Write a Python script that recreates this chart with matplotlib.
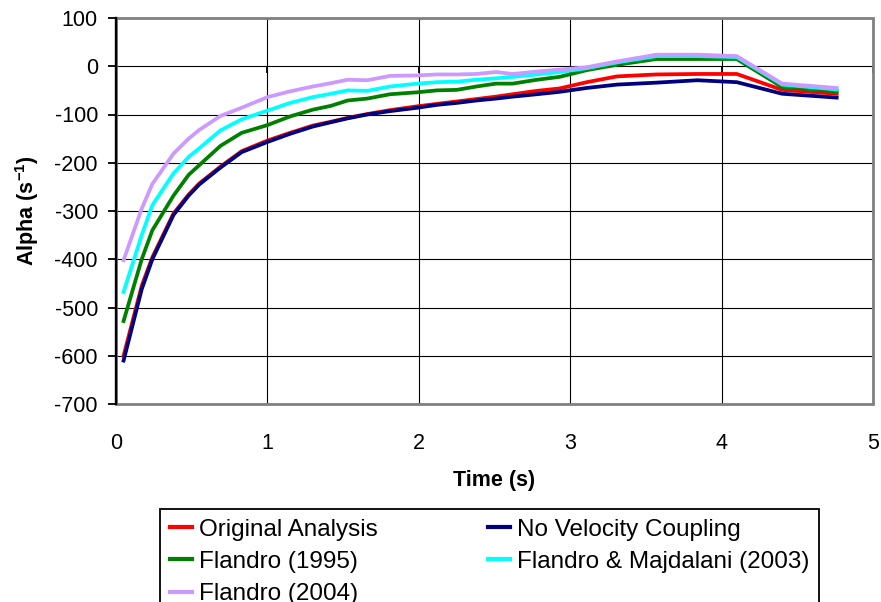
import matplotlib
matplotlib.use('Agg')
import matplotlib.pyplot as plt
from matplotlib.patches import Rectangle

plt.rcParams['font.family'] = ['Liberation Sans', 'DejaVu Sans']
plt.rcParams['mathtext.fontset'] = 'custom'
plt.rcParams['mathtext.rm'] = 'Liberation Sans'
plt.rcParams['mathtext.bf'] = 'Liberation Sans:bold'
plt.rcParams['axes.unicode_minus'] = False

# time points (s)
time = [0.05, 0.17, 0.24, 0.38, 0.48, 0.55, 0.69, 0.83, 1.0, 1.15,
        1.30, 1.42, 1.53, 1.66, 1.81, 1.99, 2.12, 2.25, 2.38, 2.51,
        2.62, 2.78, 2.93, 3.11, 3.31, 3.57, 3.84, 4.10, 4.40, 4.76]

original = [-600, -455, -396, -305, -266, -243, -208, -176, -154, -138,
            -123, -115, -107, -99, -91, -83, -78, -73, -68, -63,
            -58, -51, -46, -33, -21, -17, -16, -16, -49, -57]
no_vel = [-610, -462, -400, -308, -268, -245, -210, -178, -157, -140,
          -125, -116, -108, -100, -93, -86, -80, -76, -71, -67,
          -63, -58, -53, -45, -38, -34, -29, -33, -57, -65]
flandro95 = [-528, -400, -340, -268, -225, -205, -165, -138, -122, -104,
             -90, -82, -71, -67, -58, -54, -50, -49, -42, -36,
             -36, -28, -22, -8, 3, 15, 15, 15, -43, -52]
flandro_maj03 = [-468, -350, -288, -222, -188, -170, -133, -110, -92, -76,
                 -64, -57, -50, -51, -42, -36, -33, -32, -28, -25,
                 -22, -17, -12, -4, 8, 21, 21, 19, -38, -48]
flandro04 = [-402, -295, -244, -181, -150, -132, -103, -86, -64, -52,
             -42, -35, -28, -29, -20, -19, -17, -17, -16, -12,
             -16, -11, -7, -2, 10, 24, 24, 21, -36, -45]

names = ['Original Analysis', 'No Velocity Coupling', 'Flandro (1995)',
         'Flandro & Majdalani (2003)', 'Flandro (2004)']
colors = ['#FF0000', '#000080', '#008000', '#00FFFF', '#CC99FF']
series = [original, no_vel, flandro95, flandro_maj03, flandro04]

fs = 15.5
leg_fs = 17.5

fig = plt.figure(figsize=(8.81, 6.02), dpi=100)
ax = fig.add_axes([116/881, 1-404/602, 757/881, 386/602])

for i in range(len(series)):
    ax.plot(time, series[i], color=colors[i], lw=2.7, label=names[i],
            solid_joinstyle='miter', zorder=3+i)

ax.set_xlim(0, 5)
ax.set_ylim(-700, 100)
ax.set_xticks(range(0, 6))
ax.set_yticks(range(-700, 101, 100))
ax.grid(True, color='black', lw=0.8, zorder=1)

for s in ['top', 'right', 'bottom', 'left']:
    ax.spines[s].set_visible(False)
ax.add_patch(Rectangle((0, 0), 1, 1, transform=ax.transAxes, fill=False,
                       edgecolor='#808080', lw=2.0, zorder=2, clip_on=False))
ax.spines['left'].set_visible(True)
ax.spines['left'].set_color('black')
ax.spines['left'].set_linewidth(1.7)
ax.spines['left'].set_zorder(2.5)

ax.tick_params(axis='y', direction='out', length=6, width=1.3, pad=7,
               labelsize=fs, colors='black')
ax.tick_params(axis='x', length=0, pad=21, labelsize=fs)

# horizontal axis line crossing at zero, with its tick marks
sec = ax.secondary_xaxis(7/8)
sec.spines['bottom'].set_linewidth(1.7)
sec.spines['bottom'].set_color('black')
sec.set_xticks(range(0, 6))
sec.tick_params(direction='out', length=5, width=1.3, labelbottom=False,
                labeltop=False, top=False, bottom=True)
sec.spines['top'].set_visible(False)

ax.set_xlabel('Time (s)', fontsize=fs, fontweight='bold')
ax.xaxis.set_label_coords(0.5, -0.172)
ax.set_ylabel(r'Alpha (s$^{\mathbf{-1}}$)', fontsize=fs, fontweight='bold')
ax.yaxis.set_label_coords(-0.099, 0.5)

h, l = ax.get_legend_handles_labels()
order = [0, 2, 4, 1, 3]
leg = fig.legend([h[k] for k in order], [l[k] for k in order], ncol=2,
                 loc='upper left', bbox_to_anchor=(160/881, 1-509/602),
                 fontsize=leg_fs, frameon=True, fancybox=False,
                 edgecolor='black', framealpha=1, handlelength=0.9,
                 handletextpad=0.3, columnspacing=4.55, labelspacing=0.42,
                 borderpad=0.4, borderaxespad=0)
leg.get_frame().set_linewidth(1.3)
for line in leg.get_lines():
    line.set_linewidth(3)

fig.savefig('out.png', dpi=100)
